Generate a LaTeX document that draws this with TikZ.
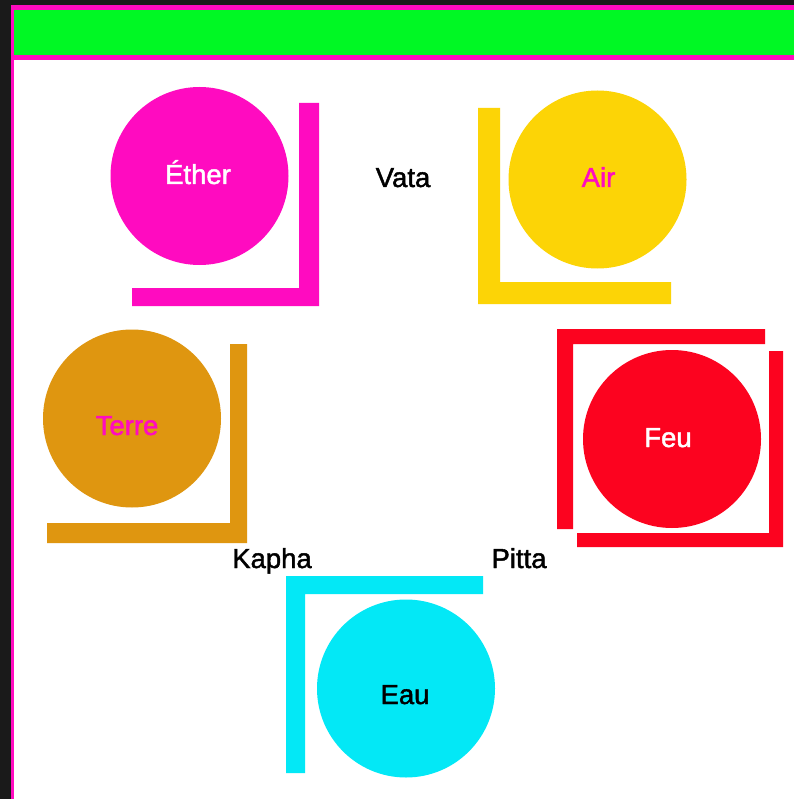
\documentclass[tikz,border=0pt]{standalone}
\usepackage{fontspec}
\setmainfont{Liberation Sans}
\newfontfamily\lblfont[FakeBold=1.6]{Liberation Sans}
\definecolor{mag}{HTML}{FF0BC0}
\definecolor{grn}{HTML}{00F824}
\definecolor{yel}{HTML}{FCD406}
\definecolor{ter}{HTML}{DF9610}
\definecolor{feu}{HTML}{FC031F}
\definecolor{eau}{HTML}{03E8F6}
\definecolor{dark}{HTML}{1A1A1A}
\begin{document}
\begin{tikzpicture}[x=1pt,y=-1pt,
  elem/.style={circle,inner sep=0pt,minimum size=178pt,draw=none},
  lbl/.style={font=\lblfont\fontsize{27.5}{30}\selectfont,inner sep=0pt,anchor=base}]
\useasboundingbox (0,0) rectangle (794,799);
% frame
\fill[dark] (0,0) rectangle (794,799);
\fill[mag] (11,5) rectangle (794,799);
\fill[white] (14,60) rectangle (794,799);
\fill[grn] (14,10) rectangle (794,55);
% L-shaped brackets
\fill[mag] (299,103) -- (319,103) -- (319,306) -- (132,306) -- (132,288) -- (299,288) -- cycle;
\fill[yel] (478,108) -- (500,108) -- (500,282) -- (671,282) -- (671,304) -- (478,304) -- cycle;
\fill[ter] (230,344) -- (247,344) -- (247,543) -- (47,543) -- (47,523) -- (230,523) -- cycle;
\fill[feu] (557,329) -- (765,329) -- (765,344) -- (573,344) -- (573,529) -- (557,529) -- cycle;
\fill[feu] (769,351) -- (783,351) -- (783,547) -- (577,547) -- (577,533) -- (769,533) -- cycle;
\fill[eau] (286,576) -- (483,576) -- (483,594) -- (305,594) -- (305,773) -- (286,773) -- cycle;
% elements
\node[elem,fill=mag] (ether) at (199.5,176) {};
\node[elem,fill=yel] (air) at (597.5,179.5) {};
\node[elem,fill=ter] (terre) at (132,418.5) {};
\node[elem,fill=feu] (feu) at (672,439) {};
\node[elem,fill=eau] (eau) at (406,688.5) {};
% element labels
\node[lbl,text=white] (etherlbl) at (198,184) {Éther};
\node[lbl,text=mag] (airlbl) at (598.5,187) {Air};
\node[lbl,text=mag] (terrelbl) at (127,435) {Terre};
\node[lbl,text=white] (feulbl) at (668,447) {Feu};
\node[lbl,text=black] (eaulbl) at (405,704) {Eau};
% dosha labels
\node[lbl,text=black] (vata) at (403,187) {Vata};
\node[lbl,text=black] (kapha) at (272,568) {Kapha};
\node[lbl,text=black] (pitta) at (519,568) {Pitta};
\end{tikzpicture}
\end{document}
